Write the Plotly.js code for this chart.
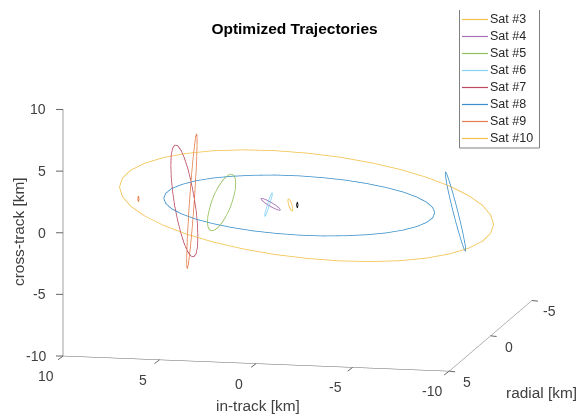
<!DOCTYPE html>
<html><head><meta charset="utf-8">
<script src="https://cdn.plot.ly/plotly-3.0.1.min.js"></script>
<style>html,body{margin:0;padding:0;background:#fff}#g{width:577px;height:414px}</style>
</head><body><div id="g"></div>
<script>
var sat10X=[-10,-10,-9.58,-8.86,-7.89,-6.70,-5.32,-3.78,-2.16,-0.47,1.22,2.84,4.38,5.76,6.95,7.92,8.64,9.07,9.22,9.07,8.64,7.92,6.95,5.76,4.38,2.84,1.22,-0.47,-2.16,-3.78,-5.32,-6.70,-7.89,-8.86,-9.58,-10,-10];
var sat10Y=[-0.37,0,0,0,0,0,0,0,0,0,0,0,0,0,0,0,0,0,0,0,0,0,0,0,0,0,0,0,0,0,0,0,0,0,0,0,-0.37];
var sat10Z=[-1.17,-1.68,-2.35,-2.96,-3.48,-3.89,-4.19,-4.36,-4.40,-4.30,-4.08,-3.73,-3.27,-2.71,-2.07,-1.37,-0.63,0.13,0.89,1.62,2.29,2.90,3.42,3.83,4.13,4.30,4.34,4.24,4.02,3.67,3.21,2.65,2.01,1.31,0.57,-0.19,-1.17];
var sat8X=[-7.11,-7.00,-6.69,-6.17,-5.47,-4.60,-3.60,-2.49,-1.31,-0.09,1.13,2.31,3.42,4.42,5.29,5.99,6.51,6.82,6.93,6.82,6.51,5.99,5.29,4.42,3.42,2.31,1.13,-0.09,-1.31,-2.49,-3.60,-4.60,-5.47,-6.17,-6.69,-7.00,-7.11];
var sat8Z=[-0.19,-0.61,-1.00,-1.37,-1.70,-1.98,-2.19,-2.34,-2.43,-2.44,-2.37,-2.24,-2.03,-1.77,-1.46,-1.10,-0.71,-0.30,0.12,0.54,0.94,1.30,1.63,1.91,2.12,2.27,2.36,2.37,2.30,2.17,1.96,1.70,1.39,1.03,0.64,0.23,-0.19];
var sat5X=[3.20,3.22,3.30,3.41,3.56,3.74,3.93,4.12,4.30,4.45,4.56,4.64,4.66,4.64,4.56,4.45,4.30,4.12,3.93,3.74,3.56,3.41,3.30,3.22,3.20];
var sat5Z=[1.57,1.08,0.52,-0.09,-0.69,-1.25,-1.72,-2.08,-2.30,-2.37,-2.28,-2.03,-1.65,-1.16,-0.60,0.01,0.61,1.17,1.64,2.00,2.22,2.29,2.20,1.95,1.57];
var sat7X=[5.16,5.18,5.25,5.37,5.51,5.68,5.86,6.04,6.21,6.36,6.47,6.54,6.56,6.54,6.47,6.36,6.21,6.04,5.86,5.68,5.51,5.37,5.25,5.18,5.16];
var sat7Z=[-2.90,-3.71,-4.26,-4.53,-4.49,-4.15,-3.52,-2.66,-1.62,-0.47,0.71,1.84,2.84,3.65,4.20,4.47,4.43,4.09,3.46,2.60,1.56,0.41,-0.77,-1.90,-2.90];
var sat9X=[5.20,5.21,5.23,5.28,5.33,5.40,5.47,5.54,5.61,5.66,5.71,5.73,5.74,5.73,5.71,5.66,5.61,5.54,5.47,5.40,5.33,5.28,5.23,5.21,5.20];
var sat9Z=[4.89,4.08,3.00,1.71,0.31,-1.12,-2.48,-3.67,-4.61,-5.24,-5.51,-5.41,-4.95,-4.14,-3.06,-1.77,-0.37,1.06,2.42,3.61,4.55,5.18,5.45,5.35,4.89];
var sat1X=[-8.71,-8.70,-8.64,-8.56,-8.45,-8.32,-8.18,-8.04,-7.91,-7.80,-7.72,-7.67,-7.65,-7.67,-7.72,-7.80,-7.91,-8.04,-8.18,-8.32,-8.45,-8.56,-8.64,-8.70,-8.71];
var sat1Z=[-3.14,-3.22,-3.09,-2.75,-2.22,-1.55,-0.77,0.07,0.89,1.65,2.30,2.78,3.08,3.16,3.03,2.69,2.16,1.49,0.71,-0.13,-0.95,-1.71,-2.36,-2.84,-3.14];
var sat4X=[0.88,0.95,1.13,1.39,1.65,1.83,1.90,1.83,1.65,1.39,1.13,0.95,0.88];
var sat4Z=[-0.46,-0.49,-0.40,-0.21,0.03,0.25,0.40,0.43,0.34,0.15,-0.09,-0.31,-0.46];
var sat6X=[1.30,1.32,1.40,1.50,1.60,1.68,1.70,1.68,1.60,1.50,1.40,1.32,1.30];
var sat6Z=[0.90,0.63,0.18,-0.34,-0.77,-1.02,-1.00,-0.73,-0.28,0.24,0.67,0.92,0.90];
var sat3X=[0.24,0.26,0.30,0.37,0.44,0.48,0.50,0.48,0.44,0.37,0.30,0.26,0.24];
var sat3Z=[-0.38,-0.50,-0.48,-0.35,-0.12,0.13,0.34,0.46,0.44,0.31,0.08,-0.17,-0.38];
var sat2X=[8.21,8.22,8.24,8.26,8.27,8.26,8.24,8.22,8.21];
var sat2Z=[-0.04,-0.17,-0.24,-0.19,-0.02,0.14,0.21,0.16,-0.04];
var chiefX=[0.01,0.05,0.01,-0.03,0.01];
var chiefZ=[0.25,0,-0.25,0,0.25];

var cYellow='#F2C14E',cPurple='#A873B5',cGreen='#93C05A',cCyan='#86D2F2',cRed='#BC4A62',cBlue='#3A8FCB',cOrange='#E57F4D';
var tracesList=[
 ['Chief',chiefX,chiefZ,'#000000'],
 ['Sat #1',sat1X,sat1Z,cBlue],
 ['Sat #2',sat2X,sat2Z,cOrange],
 ['Sat #3',sat3X,sat3Z,cYellow],
 ['Sat #4',sat4X,sat4Z,cPurple],
 ['Sat #5',sat5X,sat5Z,cGreen],
 ['Sat #6',sat6X,sat6Z,cCyan],
 ['Sat #7',sat7X,sat7Z,cRed],
 ['Sat #8',sat8X,sat8Z,cBlue],
 ['Sat #9',sat9X,sat9Z,cOrange],
 ['Sat #10',sat10X,sat10Z,cYellow,sat10Y]
];
var legendNames=['Sat #3','Sat #4','Sat #5','Sat #6','Sat #7','Sat #8','Sat #9','Sat #10'];
var legendColors=[cYellow,cPurple,cGreen,cCyan,cRed,cBlue,cOrange,cYellow];
var xTicks=[10,5,0,-5,-10];
var yTicks=[5,0,-5];
var zTicks=[-10,-5,0,5,10];

var W=577,H=414,TXT='#404040',AXC='#666666';
var traces=tracesList.map(function(t){
  return {type:'scatter3d',mode:'lines',name:t[0],x:t[1],y:t[4]||t[1].map(function(){return 0;}),z:t[2],
    line:{color:t[3],width:1.6},showlegend:false,hoverinfo:'skip'};
});
var tf={family:'Liberation Sans, Arial, sans-serif',size:14,color:TXT};
var lf={family:'Liberation Sans, Arial, sans-serif',size:15.4,color:TXT};
var sa=[];
function tick(x,y,z,ax_,ay_){return {x:x,y:y,z:z,showarrow:true,arrowhead:0,arrowwidth:1,arrowcolor:AXC,ax:ax_,ay:ay_,standoff:0,startstandoff:0};}
zTicks.forEach(function(v){
  sa.push({x:10,y:5,z:v,text:String(v),showarrow:false,xanchor:'right',yanchor:'middle',xshift:-15,font:tf});
  sa.push(tick(10,5,v,-10,0));
});
xTicks.forEach(function(v){
  sa.push({x:v,y:5,z:-10,text:String(v),showarrow:false,xanchor:'center',yanchor:'middle',xshift:-17,yshift:-20,font:tf});
  sa.push(tick(v,5,-10,-8,6));
});
yTicks.forEach(function(v){
  sa.push({x:-10,y:v,z:-10,text:String(v),showarrow:false,xanchor:'center',yanchor:'middle',xshift:18,yshift:-11,font:tf});
  sa.push(tick(-10,v,-10,9,1));
});

var ann=[
 {xref:'paper',yref:'paper',x:258/W,y:1-405/H,text:'in-track [km]',showarrow:false,xanchor:'center',yanchor:'middle',font:lf},
 {xref:'paper',yref:'paper',x:541/W,y:1-392/H,text:'radial [km]',showarrow:false,xanchor:'center',yanchor:'middle',font:lf},
 {xref:'paper',yref:'paper',x:18/W,y:1-232/H,text:'cross-track [km]',textangle:-90,showarrow:false,xanchor:'center',yanchor:'middle',font:lf}
];
var shapes=[{type:'path',xref:'paper',yref:'paper',path:'M'+(459.5/W)+' '+(1-10/H)+'L'+(459.5/W)+' '+(1-148/H)+'L'+(539.5/W)+' '+(1-148/H)+'L'+(539.5/W)+' '+(1-10/H),line:{color:'#808080',width:1},layer:'above'}];
legendNames.forEach(function(n,i){
  var py=19.3+i*17;
  var ly=Math.round(py)+0.5;
  shapes.push({type:'line',xref:'paper',yref:'paper',x0:462/W,x1:488/W,y0:1-ly/H,y1:1-ly/H,line:{color:legendColors[i],width:1.2},layer:'above'});
  ann.push({xref:'paper',yref:'paper',x:488/W,y:1-py/H,text:n,showarrow:false,xanchor:'left',yanchor:'middle',font:{family:'Liberation Sans, Arial, sans-serif',size:12.5,color:'#262626'}});
});
function ax(range,tv,tt,col,w){return {range:range,autorange:false,tickvals:tv,ticktext:tt,showticklabels:false,showgrid:false,zeroline:false,showbackground:false,showspikes:false,showline:true,linecolor:col,linewidth:w,ticks:'',title:{text:''}};}
var k=1.034,s=1.006;
var layout={width:W,height:H,paper_bgcolor:'#fff',margin:{l:0,r:0,t:0,b:0},showlegend:false,
 title:{text:'<b>Optimized Trajectories</b>',x:294.5/W,xanchor:'center',y:1-29/H,yanchor:'middle',font:{family:'Liberation Sans, Arial, sans-serif',size:15.5,color:'#000'}},
 scene:{domain:{x:[0.0312,1],y:[0.0097,1]},aspectmode:'manual',aspectratio:{x:1.915*s,y:1.915*s,z:1.216*s},
  camera:{projection:{type:'orthographic'},eye:{x:-0.206*k,y:0.961*k,z:0.183*k},up:{x:0,y:0,z:1},center:{x:0,y:0,z:0}},
  xaxis:ax([-10,10],xTicks,xTicks.map(String),AXC,1),yaxis:ax([-5,5],yTicks,yTicks.map(String),AXC,1),zaxis:ax([-10,10],zTicks,zTicks.map(String),'#a0a0a0',2),annotations:sa},
 annotations:ann,shapes:shapes};
Plotly.newPlot('g',traces,layout,{displayModeBar:false});
</script></body></html>
